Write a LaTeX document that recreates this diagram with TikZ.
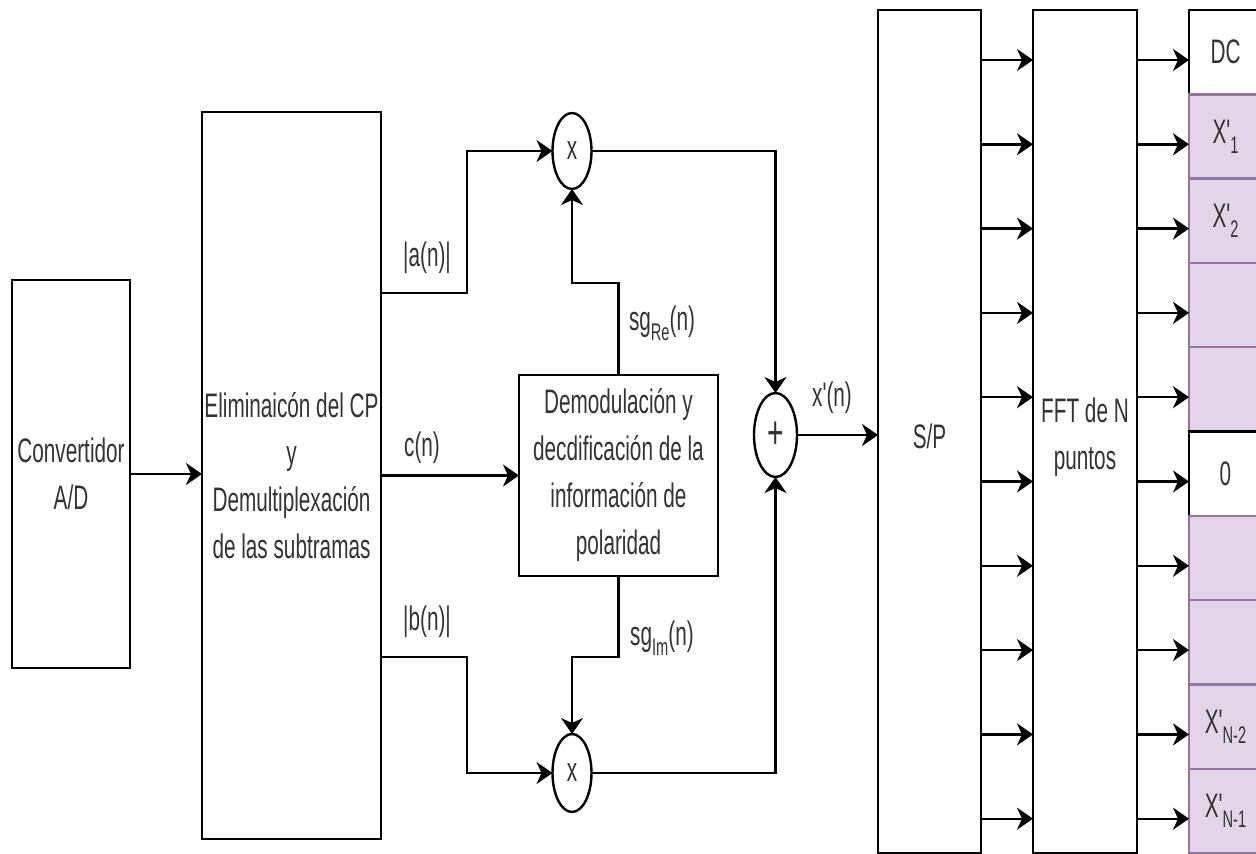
\documentclass[tikz,border=0pt]{standalone}
\usepackage{fontspec}
\usepackage{graphicx}
\newfontfamily\lblfont{Liberation Sans}[FakeStretch=0.61]
\usetikzlibrary{arrows.meta,shapes.geometric}
\definecolor{pfill}{HTML}{E1D5E7}
\definecolor{pdraw}{HTML}{9673A6}
\definecolor{txt}{HTML}{333333}
\newcommand{\lbl}{\lblfont\fontsize{34}{47}\selectfont}
\newcommand{\lsub}[1]{\raisebox{-10pt}{\fontsize{24}{24}\selectfont #1}}
\begin{document}
\begin{tikzpicture}[x=1pt,y=-1pt,line width=2.4pt,
  blk/.style={draw=black,fill=white,inner sep=0pt,outer sep=0pt,align=center,font=\lbl,text=txt},
  oper/.style={ellipse,draw=black,fill=white,inner sep=0pt,outer sep=0pt,font=\lbl,text=txt},
  cellw/.style={blk,minimum width=73pt,minimum height=84.3pt},
  cellp/.style={blk,draw=pdraw,fill=pfill,minimum width=73pt,minimum height=84.3pt},
  lab/.style={font=\lbl,text=txt,inner sep=0pt,align=center},
  arr/.style={-{Stealth[length=16pt,width=22pt,inset=5pt]}}]
\useasboundingbox (0,0) rectangle (1256,854);
\clip (0,0) rectangle (1256,854);
\fill[white] (0,0) rectangle (1256,854);

% blocks
\node[blk,minimum width=118pt,minimum height=388pt] (conv) at (71,474) {Convertidor\\A/D};
\node[blk,minimum width=179pt,minimum height=727pt] (elim) at (291.5,475.5) {Eliminaicón del CP\\y\\Demultiplexación\\de las subtramas};
\node[blk,minimum width=199pt,minimum height=201pt] (demod) at (618.5,475.5) {Demodulación y\\decdificación de la\\información de\\polaridad};
\node[oper,minimum width=39pt,minimum height=76pt] (m1) at (572,151) {x};
\node[oper,minimum width=39pt,minimum height=78pt] (m2) at (572,773) {x};
\node[oper,minimum width=43pt,minimum height=84pt,font=\lblfont\fontsize{46}{46}\selectfont] (add) at (775.5,435) {+};
\node[blk,minimum width=103pt,minimum height=843pt] (sp) at (929.5,431.5) {};
\node[blk,minimum width=104pt,minimum height=843pt] (fft) at (1085,431.5) {};
\node[lab] (spt) at ([yshift=-5pt]sp.center) {S/P};
\node[lab] (fftt) at ([yshift=-6pt]fft.center) {FFT de N\\puntos};

% output cells
\node[cellw] (c0) at (1225.5,52.15) {DC};
\node[cellp] (c1) at (1225.5,136.45) {X'\lsub{1}};
\node[cellp] (c2) at (1225.5,220.75) {X'\lsub{2}};
\node[cellp] (c3) at (1225.5,305.05) {};
\node[cellp] (c4) at (1225.5,389.35) {};
\node[cellw] (c5) at (1225.5,473.65) {0};
\node[cellp] (c6) at (1225.5,557.95) {};
\node[cellp] (c7) at (1225.5,642.25) {};
\node[cellp] (c8) at (1225.5,726.55) {X'\lsub{N-2}};
\node[cellp] (c9) at (1225.5,810.85) {X'\lsub{N-1}};

% helper coordinates
\coordinate (ja) at (467,293);
\coordinate (jb) at (467,657);
\coordinate (ksr) at (572,283);
\coordinate (ksi) at (572,657);

% connectors
\draw[arr] (conv.east) -- (conv.east -| elim.west);
\draw[arr] (elim.east |- ja) -- (ja) |- (m1.west);
\draw[arr] (elim.east |- demod.west) -- (demod.west);
\draw[arr] (elim.east |- jb) -- (jb) |- (m2.west);
\draw[arr] (demod.north) -- (demod.north |- ksr) -| (m1.south);
\draw[arr] (demod.south) -- (demod.south |- ksi) -| (m2.north);
\draw[arr] (m1.east) -| (add.north);
\draw[arr] (m2.east) -| (add.south);
\draw[arr] (add.east) -- (add.east -| sp.west);

\foreach \i in {0,...,9}{
  \coordinate (r\i) at (0,{60+84.3*\i});
  \draw[arr] (sp.east |- r\i) -- (fft.west |- r\i);
  \draw[arr] (fft.east |- r\i) -- (c\i.west |- r\i);
}

% labels
\node[lab] (la) at (427,258) {|a(n)|};
\node[lab] (lc) at (422,448) {c(n)};
\node[lab] (lb) at (427,622) {|b(n)|};
\node[lab] (lre) at (662,323) {sg\lsub{Re}(n)};
\node[lab] (lim) at (662,638) {sg\lsub{Im}(n)};
\node[lab] (lx) at (832,398) {x'(n)};
\end{tikzpicture}
\end{document}
